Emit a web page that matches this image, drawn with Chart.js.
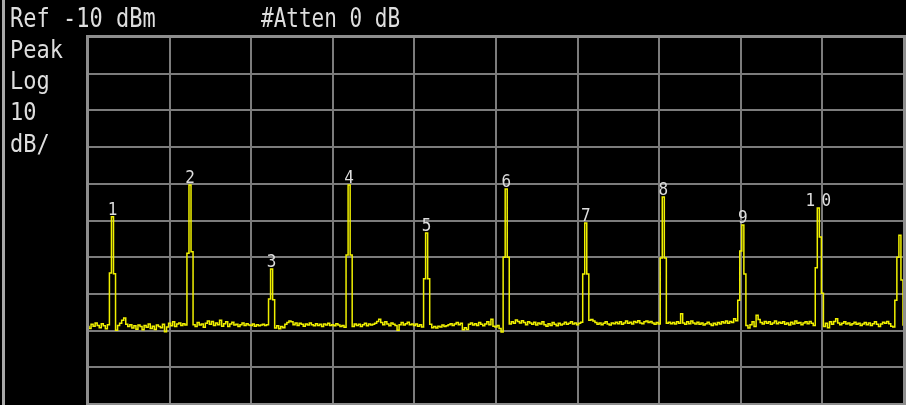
<!DOCTYPE html>
<html>
<head>
<meta charset="utf-8">
<script src="https://cdn.jsdelivr.net/npm/chart.js@4/dist/chart.umd.min.js"></script>
<style>
  html, body { margin: 0; padding: 0; background: #000; }
  canvas { display: block; }
</style>
</head>
<body>
<canvas id="sa" width="906" height="405"></canvas>
<script>
// Swept trace, 401 bins, amplitude in dBm
const traceDbm = [
  -88.9, -89.4, -88.3, -88.8, -87.9, -88.6, -89.2, -88.1, -88.7, -89.5, -88.4, -74.3, -59.0, -74.5, -89.9, -88.6, -88.0, -87.2, -86.6, -88.3,
  -88.9, -88.4, -89.3, -88.7, -89.6, -88.5, -88.9, -89.8, -88.6, -89.1, -88.2, -89.4, -88.8, -89.7, -88.5, -88.9, -89.2, -88.3, -90.3, -89.0,
  -88.0, -88.7, -87.6, -88.9, -88.2, -87.9, -88.6, -88.1, -88.5, -68.9, -50.3, -68.5, -88.4, -88.9, -87.8, -88.5, -88.2, -89.1, -88.0, -87.4,
  -88.3, -87.5, -88.6, -87.9, -88.4, -87.2, -88.8, -88.1, -87.6, -88.9, -88.2, -87.7, -88.5, -88.3, -88.9, -88.4, -87.9, -88.6, -88.1, -88.5,
  -88.6, -88.2, -88.8, -88.4, -88.7, -88.5, -88.3, -88.6, -88.4, -81.4, -73.2, -81.6, -89.3, -88.7, -89.5, -88.9, -89.2, -88.3, -87.8, -87.4,
  -87.6, -88.4, -87.9, -88.6, -88.0, -88.3, -88.8, -88.2, -88.5, -87.9, -88.4, -88.7, -88.1, -88.6, -88.3, -88.9, -88.2, -88.5, -88.0, -88.6,
  -88.4, -88.7, -88.1, -88.5, -88.9, -88.6, -89.1, -69.4, -50.3, -69.4, -88.9, -88.2, -88.6, -88.3, -88.9, -88.4, -88.0, -88.7, -88.2, -88.5,
  -88.3, -88.0, -87.5, -86.9, -87.8, -88.4, -87.6, -88.2, -88.7, -87.9, -88.3, -88.6, -89.9, -88.4, -87.8, -88.5, -88.1, -87.7, -88.4, -88.2,
  -88.6, -88.2, -88.8, -88.4, -89.0, -75.9, -63.4, -75.9, -88.3, -89.2, -88.9, -89.3, -88.8, -89.0, -88.5, -88.9, -88.7, -88.4, -88.1, -88.6,
  -88.2, -87.8, -88.4, -88.0, -89.8, -89.2, -89.7, -88.3, -87.9, -88.5, -88.1, -88.6, -87.8, -88.3, -88.7, -88.2, -87.6, -88.4, -86.9, -88.8,
  -89.0, -88.6, -89.4, -90.4, -70.0, -51.4, -70.0, -88.2, -87.6, -88.0, -87.1, -87.5, -87.9, -87.3, -87.8, -88.4, -87.6, -87.9, -88.3, -87.7,
  -88.5, -87.9, -88.2, -87.6, -88.4, -88.8, -88.1, -88.6, -87.8, -88.3, -88.7, -88.0, -88.5, -88.2, -87.7, -88.3, -88.0, -87.6, -88.2, -87.9,
  -88.4, -88.0, -87.7, -74.6, -60.7, -74.6, -87.2, -87.0, -87.4, -87.8, -88.3, -87.9, -88.4, -88.0, -87.6, -88.2, -88.5, -87.9, -88.1, -87.7,
  -88.1, -87.6, -88.3, -87.9, -87.4, -88.0, -87.7, -88.2, -87.5, -87.8, -87.3, -87.9, -88.1, -87.6, -87.4, -87.8, -87.5, -87.9, -88.3, -87.8,
  -88.2, -70.2, -53.6, -70.2, -88.0, -87.7, -88.1, -87.8, -88.2, -87.6, -88.0, -85.4, -87.9, -88.3, -87.6, -88.1, -87.4, -87.9, -88.2, -87.7,
  -88.3, -87.9, -88.5, -88.1, -87.7, -88.2, -88.6, -88.0, -88.4, -87.8, -88.2, -87.6, -87.9, -87.4, -88.0, -87.5, -87.8, -86.8, -87.3, -81.7,
  -68.3, -61.2, -74.6, -88.6, -89.3, -88.4, -87.6, -88.9, -85.8, -87.0, -87.8, -88.2, -87.5, -88.0, -87.6, -88.3, -87.9, -87.4, -88.1, -87.7,
  -88.0, -87.6, -88.3, -87.9, -88.5, -87.7, -88.2, -87.4, -88.0, -87.8, -88.4, -87.9, -87.6, -88.1, -87.5, -88.0, -88.6, -72.9, -56.6, -64.5,
  -79.8, -88.9, -88.0, -89.2, -87.6, -88.3, -87.5, -86.8, -87.9, -88.4, -88.0, -87.6, -88.2, -87.9, -88.5, -88.1, -87.7, -88.3, -88.0, -88.6,
  -88.2, -87.8, -88.4, -87.9, -88.6, -88.1, -87.6, -88.3, -88.9, -88.2, -87.7, -88.0, -87.5, -88.1, -88.8, -89.0, -81.7, -70.0, -64.0, -76.2, -88.5
];

// Peak markers: trace bin and the number shown above it
const markerBins   = [12, 50, 90, 128, 166, 205, 244, 282, 321, 358];
const markerLabels = ['1', '2', '3', '4', '5', '6', '7', '8', '9', '10'];

// Screen annotations
const headerTexts = ['Ref -10 dBm', '#Atten 0 dB'];
const sideTexts   = ['Peak', 'Log', '10', 'dB/'];

// Display scale: reference level, 10 dB/div, 10 divisions
const refLevel = -10;
const dbPerDiv = 10;
const numDivs  = 10;
const numBins  = traceDbm.length - 1;

const GRID = '#7c7c7c';
const FRAME = '#8e8e8e';
const TEXT = '#dedede';
const TRACE = '#f0f000';

const points = traceDbm.map((v, i) => ({ x: i, y: v }));

function stretchedText(ctx, str, x, y, sy) {
  ctx.save();
  ctx.translate(x, y);
  ctx.scale(1, sy);
  ctx.fillText(str, 0, 0);
  ctx.restore();
}

const screenPlugin = {
  id: 'screen',
  afterDraw(chart) {
    const ctx = chart.ctx;
    const a = chart.chartArea;
    const xs = chart.scales.x, ys = chart.scales.y;

    // plot frame
    ctx.save();
    ctx.strokeStyle = FRAME;
    ctx.lineWidth = 3;
    ctx.strokeRect(a.left - 0.5, a.top - 0.5, a.right - a.left + 1, a.bottom - a.top + 1);
    // left bezel strip
    ctx.fillStyle = '#a9a9a9';
    ctx.fillRect(2, 0, 3, chart.height);

    // annotations
    ctx.fillStyle = TEXT;
    ctx.font = '22px "DejaVu Sans Mono"';
    ctx.textAlign = 'left';
    ctx.textBaseline = 'alphabetic';
    stretchedText(ctx, headerTexts[0], 10, 27, 1.2);
    ctx.font = '21px "DejaVu Sans Mono"';
    stretchedText(ctx, headerTexts[1], 261, 27, 1.25);
    ctx.font = '22px "DejaVu Sans Mono"';
    const sideBase = [58, 89, 120, 152];
    sideTexts.forEach((t, i) => stretchedText(ctx, t, 10, sideBase[i], 1.15));

    // marker numbers above peaks
    ctx.font = '16px "DejaVu Sans Mono"';
    ctx.textAlign = 'center';
    markerBins.forEach((bin, k) => {
      const px = xs.getPixelForValue(bin);
      const py = ys.getPixelForValue(traceDbm[bin]);
      const label = markerLabels[k];
      const pitch = 16;
      const start = px - (label.length - 1) * pitch / 2;
      for (let c = 0; c < label.length; c++) {
        stretchedText(ctx, label[c], start + c * pitch, py - 2, 1.12);
      }
    });
    ctx.restore();
  }
};

new Chart(document.getElementById('sa'), {
  type: 'line',
  data: {
    datasets: [{
      data: points,
      borderColor: TRACE,
      borderWidth: 1.5,
      pointRadius: 0,
      stepped: 'middle',
      fill: false
    }]
  },
  options: {
    responsive: false,
    animation: false,
    devicePixelRatio: 1,
    layout: { padding: { left: 88, top: 37, right: 2, bottom: 1 } },
    plugins: { legend: { display: false }, tooltip: { enabled: false } },
    scales: {
      x: {
        type: 'linear',
        min: 0,
        max: numBins,
        ticks: { display: false, stepSize: numBins / numDivs },
        grid: { color: GRID, lineWidth: 2, drawTicks: false },
        border: { display: false }
      },
      y: {
        type: 'linear',
        min: refLevel - dbPerDiv * numDivs,
        max: refLevel,
        ticks: { display: false, stepSize: dbPerDiv },
        grid: { color: GRID, lineWidth: 2, drawTicks: false },
        border: { display: false }
      }
    }
  },
  plugins: [screenPlugin]
});
</script>
</body>
</html>
